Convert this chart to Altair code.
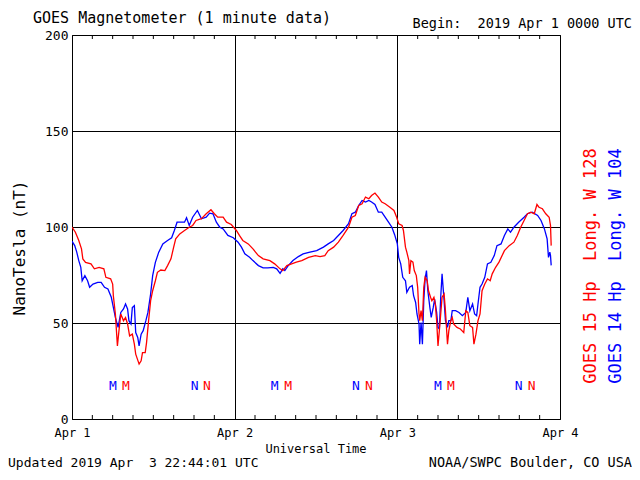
import altair as alt
import pandas as pd

# ---- data (hours since 2019 Apr 1 00:00 UTC, nT) ----
red_hours = [0.0, 0.5, 1.0, 1.4, 1.6, 2.0, 2.8, 3.3, 4.0, 4.7, 5.0, 5.7, 6.0, 6.1, 6.4, 6.7, 6.9, 7.2, 7.6, 7.9,
             8.2, 8.5, 8.9, 9.2, 9.4, 9.9, 10.2, 10.4, 10.8, 11.0, 11.3, 11.6, 11.9, 12.3, 12.6, 13.1, 13.7, 14.1,
             14.6, 15.0, 15.3, 15.9, 16.6, 17.3, 17.8, 18.3, 19.1, 19.8, 20.5, 21.0, 21.5, 22.3, 22.8, 23.5,
             24.25, 24.7, 25.2, 26.0, 26.7, 27.5, 28.2, 29.2, 29.9, 30.7, 31.1, 31.7, 32.4, 33.1, 33.9, 34.9, 35.9,
             36.6, 37.3, 37.8, 38.6, 39.3, 40.0, 40.8, 41.3, 41.8, 42.3, 42.8, 43.3, 43.8, 44.2, 44.7, 45.2, 45.7,
             46.2, 46.9, 47.5, 47.9, 48.2, 48.7, 48.9, 49.2, 49.4, 49.7, 49.8, 50.0, 50.3, 50.5, 50.8, 51.0, 51.2,
             51.3, 51.5, 51.7, 51.9, 52.1, 52.4, 52.6, 52.9, 53.1, 53.4, 53.6, 53.8, 54.0, 54.2, 54.4, 54.6, 54.9,
             55.1, 55.4, 55.6, 55.9, 56.1, 56.3, 56.8, 57.3, 57.8, 58.1, 58.4, 58.7, 59.1, 59.3, 59.6, 59.9, 60.2,
             60.5, 60.9, 61.3, 61.7, 62.0, 62.5, 63.0, 63.8, 64.5, 65.2, 65.7, 66.2, 66.7, 67.2, 67.7, 68.2, 68.6,
             68.9, 69.4, 69.9, 70.4, 70.6, 70.7]
red_nt = [100.0, 97.3, 93.0, 88.6, 83.4, 81.6, 80.8, 78.2, 79.0, 78.2, 73.8, 73.0, 70.3, 64.2, 54.7, 38.1, 45.0,
          54.7, 51.2, 52.9, 49.5, 43.3, 44.2, 39.0, 33.8, 28.6, 30.3, 34.6, 34.6, 39.8, 51.2, 61.6, 66.8, 72.0,
          76.4, 77.6, 77.3, 79.9, 83.4, 89.5, 93.8, 96.4, 98.2, 99.9, 100.8, 103.4, 104.3, 106.9, 109.0, 106.9,
          105.1, 105.1, 102.5, 101.3,
          98.2, 95.6, 93.0, 91.2, 88.6, 85.1, 83.4, 82.5, 80.8, 78.2, 77.3, 79.9, 80.8, 81.7, 82.5, 84.2, 85.1,
          84.6, 85.1, 87.7, 89.5, 92.1, 95.6, 99.9, 105.1, 106.0, 111.2, 112.1, 115.6, 114.7, 116.4, 117.7, 115.6,
          113.0, 112.1, 110.3, 108.6, 105.1, 101.7, 100.8, 98.2, 89.5, 86.9, 82.5, 75.6, 82.5, 81.7, 77.3, 74.7,
          68.6, 54.7, 51.2, 56.4, 51.2, 68.6, 73.8, 72.0, 66.8, 63.4, 61.6, 63.4, 59.9, 51.2, 38.1, 46.0, 54.7,
          63.4, 65.1, 56.4, 39.0, 46.0, 51.2, 52.9, 49.5, 47.7, 46.9, 45.0, 56.4, 55.5, 48.6, 47.7, 39.0, 44.2,
          51.2, 54.7, 66.8, 70.3, 73.0, 72.0, 75.6, 79.0, 81.7, 87.7, 90.3, 92.1, 95.6, 99.9, 103.4, 106.9, 107.7,
          106.9, 111.7, 110.3, 109.5, 106.9, 105.1, 100.8, 90.3]

blue_hours = [0.0, 0.4, 0.7, 1.0, 1.3, 1.5, 1.9, 2.3, 2.6, 3.1, 3.8, 4.3, 4.8, 5.3, 5.8, 6.1, 6.4, 6.8, 7.2, 7.6,
              7.9, 8.2, 8.4, 8.7, 8.9, 9.2, 9.4, 9.7, 9.9, 10.2, 10.5, 10.9, 11.2, 11.6, 11.9, 12.3, 12.8, 13.4,
              14.1, 14.7, 15.1, 15.5, 16.1, 16.6, 16.9, 17.3, 17.8, 18.5, 19.1, 19.8, 20.3, 20.8, 21.3, 21.8, 22.3,
              23.0, 23.8, 24.5, 25.0, 25.5, 26.2, 26.7, 27.5, 28.2, 28.9, 29.7, 30.2, 30.7, 31.1, 31.4, 31.9, 32.6,
              33.4, 34.1, 35.1, 36.1, 37.1, 37.8, 38.6, 39.3, 40.0, 40.8, 41.3, 41.8, 42.3, 42.8, 43.3, 43.8, 44.2,
              44.7, 45.2, 45.7, 46.2, 46.7, 47.2, 47.6, 48.0, 48.2, 48.5, 48.8, 49.2, 49.4, 49.8, 50.2, 50.4, 50.7,
              50.9, 51.2, 51.3, 51.5, 51.7, 51.9, 52.1, 52.3, 52.5, 52.8, 53.0, 53.3, 53.5, 53.8, 54.0, 54.2, 54.4,
              54.6, 54.9, 55.1, 55.4, 55.6, 55.9, 56.1, 56.6, 57.1, 57.6, 58.1, 58.4, 58.7, 59.1, 59.4, 59.7, 59.9,
              60.2, 60.5, 60.9, 61.3, 61.8, 62.3, 62.7, 63.3, 63.8, 64.3, 64.7, 65.2, 65.9, 66.7, 67.2, 67.9, 68.7,
              69.2, 69.7, 70.1, 70.3, 70.5, 70.6, 70.7]
blue_nt = [92.6, 90.3, 86.9, 82.5, 79.0, 72.0, 74.7, 72.0, 68.6, 70.3, 71.2, 71.2, 68.6, 67.7, 63.4, 58.1, 52.9,
           47.7, 55.5, 57.3, 59.9, 57.3, 51.2, 49.5, 58.1, 59.0, 45.0, 42.5, 38.1, 44.2, 46.0, 51.2, 55.5, 65.1,
           74.7, 81.6, 86.9, 91.2, 93.0, 94.4, 98.2, 102.5, 102.5, 102.5, 104.8, 100.8, 105.1, 108.6, 104.3, 105.1,
           107.2, 106.9, 102.5, 99.9, 99.0, 95.6, 94.4, 92.1, 89.5, 86.0, 84.2, 82.5, 79.9, 78.7, 78.7, 79.0, 78.2,
           75.9, 78.2, 77.3, 79.9, 82.5, 84.6, 86.0, 86.9, 87.7, 89.5, 91.2, 93.0, 95.6, 98.2, 101.7, 106.9, 107.7,
           111.2, 113.8, 113.0, 113.8, 113.0, 111.7, 107.7, 107.7, 105.1, 102.5, 99.9, 96.0, 91.2, 84.2, 80.8, 73.8,
           72.0, 66.0, 68.6, 69.5, 64.2, 60.7, 54.7, 49.5, 39.0, 50.3, 39.0, 61.6, 73.0, 77.3, 66.8, 58.1, 52.9,
           58.1, 62.5, 55.5, 47.7, 46.9, 63.4, 75.6, 61.6, 51.2, 47.7, 51.2, 51.2, 56.4, 56.4, 55.5, 53.8, 55.5,
           63.4, 56.4, 59.9, 54.7, 53.8, 59.9, 68.6, 70.3, 73.8, 80.8, 81.6, 85.1, 90.3, 91.2, 95.6, 99.0, 97.3,
           99.9, 102.5, 105.1, 106.9, 107.7, 106.0, 103.4, 99.0, 93.8, 84.2, 86.9, 85.1, 80.0]

# local midnight / noon markers
marker_hours = [6.05, 7.96, 18.1, 19.9, 29.9, 31.9, 41.9, 43.8, 54.0, 55.9, 65.9, 67.8]
marker_text = ["M", "M", "N", "N", "M", "M", "N", "N", "M", "M", "N", "N"]
marker_sat = ["GOES 14", "GOES 15"] * 6
marker_level = 17.3

day_ticks = [0, 24, 48, 72]
minor_ticks = [3, 6, 9, 12, 15, 18, 21, 27, 30, 33, 36, 39, 42, 45, 51, 54, 57, 60, 63, 66, 69]
y_ticks = [0, 50, 100, 150, 200]

FONT = "DejaVu Sans Mono"
RED = "#ff0000"
BLUE = "#0000ff"
NB = "\u00a0"

df = pd.concat([
    pd.DataFrame({"hour": blue_hours, "nt": blue_nt, "sat": "GOES 14"}),
    pd.DataFrame({"hour": red_hours, "nt": red_nt, "sat": "GOES 15"}),
])

xscale = alt.Scale(domain=[0, 72], nice=False, zero=False)
yscale = alt.Scale(domain=[0, 200], nice=False)
cscale = alt.Scale(domain=["GOES 14", "GOES 15"], range=[BLUE, RED])

label_expr = "'Apr ' + (round(datum.value / 24) + 1)"

base_lines = alt.Chart(df).mark_line(strokeWidth=1.3, clip=True).encode(
    x=alt.X("hour:Q", scale=xscale,
            axis=alt.Axis(values=day_ticks, labelExpr=label_expr, grid=True, ticks=False, domain=False,
                          title=None, labelFont=FONT, labelFontSize=12, labelPadding=8, labelColor="black",
                          labelFlush=False, labelOverlap=False,
                          gridColor="black", gridOpacity=1, gridWidth=1)),
    y=alt.Y("nt:Q", scale=yscale,
            axis=alt.Axis(values=y_ticks, grid=True, ticks=False, domain=False, title=None,
                          labelFont=FONT, labelFontSize=13, labelPadding=4, labelColor="black",
                          labelFlush=False, labelOverlap=False,
                          gridColor="black", gridOpacity=1, gridWidth=1)),
    color=alt.Color("sat:N", scale=cscale, legend=None),
    detail="sat:N",
    order="hour:Q",
)

tick_df = pd.DataFrame({"hour": minor_ticks})
ticks_bottom = alt.Chart(tick_df).mark_rule(color="black", strokeWidth=1).encode(
    x=alt.X("hour:Q", scale=xscale), y=alt.value(384), y2=alt.value(380))
ticks_top = alt.Chart(tick_df).mark_rule(color="black", strokeWidth=1).encode(
    x=alt.X("hour:Q", scale=xscale), y=alt.value(0), y2=alt.value(4))

mk_df = pd.DataFrame({"hour": marker_hours, "t": marker_text, "sat": marker_sat, "lvl": marker_level})
markers = alt.Chart(mk_df).mark_text(font=FONT, fontSize=13, baseline="middle", align="center").encode(
    x=alt.X("hour:Q", scale=xscale), y=alt.Y("lvl:Q", scale=yscale), text="t:N",
    color=alt.Color("sat:N", scale=cscale, legend=None))


def label(txt, x, y, size=14, align="left", angle=0, color="black"):
    props = dict(font=FONT, fontSize=size, align=align, baseline="middle", color=color,
                 text=txt.replace(" ", NB))
    if angle:
        props["angle"] = angle
    return alt.Chart(pd.DataFrame({"a": [0]})).mark_text(**props).encode(x=alt.value(x), y=alt.value(y))


texts = [
    label("GOES Magnetometer (1 minute data)", -39, -17, size=15),
    label("Begin:  2019 Apr 1 0000 UTC", 560, -11, size=13.5, align="right"),
    label("Universal Time", 244, 414, size=12, align="center"),
    label("Updated 2019 Apr  3 22:44:01 UTC", -64, 428, size=13),
    label("NOAA/SWPC Boulder, CO USA", 560, 428, size=13.5, align="right"),
    label("NanoTesla (nT)", -52, 213, size=16, align="center", angle=270),
    label("GOES 15 Hp  Long. W 128", 519, 231, size=17, align="center", angle=270, color=RED),
    label("GOES 14 Hp  Long. W 104", 544, 231, size=17, align="center", angle=270, color=BLUE),
]

chart = alt.layer(base_lines, ticks_bottom, ticks_top, markers, *texts).properties(
    width=488, height=384,
    autosize=alt.AutoSizeParams(type="none"),
    padding={"left": 64, "top": 27, "right": 72, "bottom": 53},
    background="white",
).configure_view(stroke="black", strokeWidth=1)

chart.save("out.html", embed_options={"renderer": "svg", "actions": False})
